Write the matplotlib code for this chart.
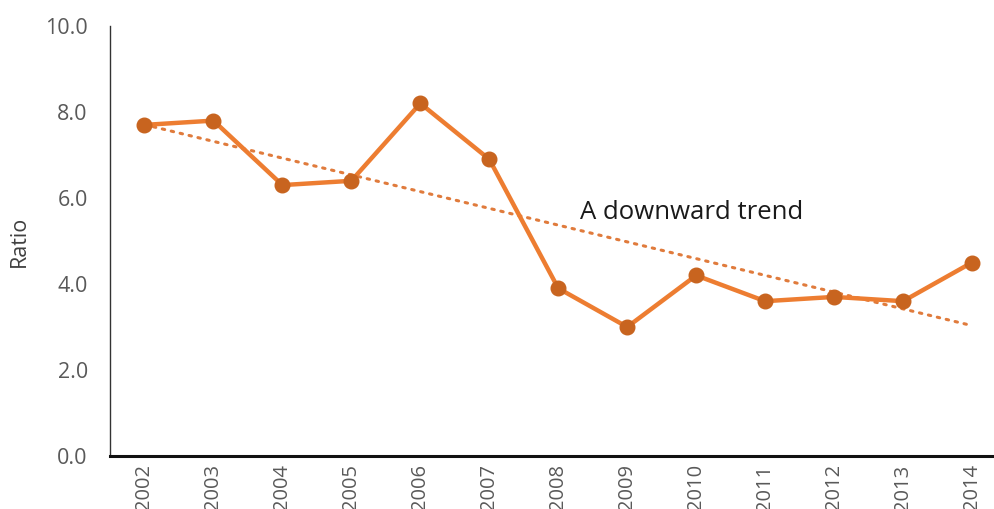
import matplotlib
matplotlib.use("Agg")
import matplotlib.pyplot as plt
import numpy as np

years = ["2002", "2003", "2004", "2005", "2006", "2007", "2008",
         "2009", "2010", "2011", "2012", "2013", "2014"]
ratio = [7.7, 7.8, 6.3, 6.4, 8.2, 6.9, 3.9, 3.0, 4.2, 3.6, 3.7, 3.6, 4.5]
y_ticks = [0.0, 2.0, 4.0, 6.0, 8.0, 10.0]
annotation = "A downward trend"

plt.rcParams['font.family'] = ['Open Sans', 'DejaVu Sans']

fig = plt.figure(figsize=(9.94, 5.09), dpi=100)
ax = fig.add_axes([110/994, 1 - 456/509, 896.5/994, 430/509])

x = np.arange(len(years))
ax.plot(x, ratio, color="#ED7D31", lw=3.2, marker="o", markersize=10.5,
        markerfacecolor="#C8641F", markeredgecolor="#C8641F", zorder=3)

coef = np.polyfit(x, ratio, 1)
trend = np.polyval(coef, x)
ax.plot(x, trend, color="#E07B3C", lw=2.2, linestyle=(0, (0.8, 2.2)),
        dash_capstyle="round", zorder=2)

ax.text(6.32, 5.67, annotation, fontsize=18.5, color="#1a1a1a",
        va="center", ha="left")

ax.set_xlim(-0.5, len(years) - 0.5)
ax.set_ylim(0, 10)
ax.set_xticks(x)
ax.set_xticklabels(years, rotation=90, fontsize=14.5, color="#595959")
ax.set_yticks(y_ticks)
ax.set_yticklabels([f"{v:.1f}" for v in y_ticks], fontsize=15.5, color="#595959")
ax.tick_params(axis="both", length=0)
ax.tick_params(axis="y", pad=16)
ax.tick_params(axis="x", pad=6)
ax.set_ylabel("Ratio", fontsize=15.5, color="#404040", labelpad=11)

for s in ["top", "right"]:
    ax.spines[s].set_visible(False)
ax.spines["left"].set_color("#333333")
ax.spines["left"].set_linewidth(1.0)
ax.spines["bottom"].set_color("#111111")
ax.spines["bottom"].set_linewidth(2.2)

fig.savefig("out.png", dpi=100)
